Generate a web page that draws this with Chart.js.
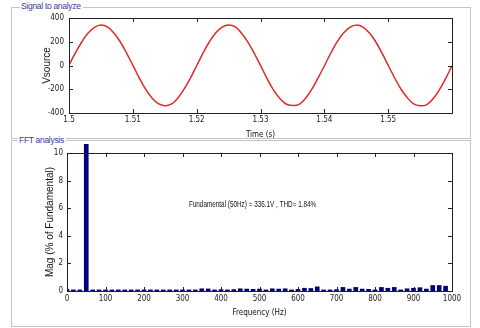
<!DOCTYPE html>
<html>
<head>
<meta charset="utf-8">
<script src="https://cdn.jsdelivr.net/npm/chart.js@4.4.1/dist/chart.umd.min.js"></script>
<style>
  body { margin: 0; background: #fff; width: 480px; height: 328px; overflow: hidden; position: relative; }
  .panel { position: absolute; border: 1px solid #c4c4c4; }
  .plabel { position: absolute; z-index: 3; background: #fff; color: #3a3a96; padding: 0 2px 0 1px;
            font: 8.5px 'Liberation Sans', Arial, sans-serif; letter-spacing: -0.3px; line-height: 12px; white-space: nowrap; }
  canvas { position: absolute; left: 0; z-index: 1; }
</style>
</head>
<body>
<div class="panel" style="left:11px;top:7px;width:458px;height:130px"></div>
<div class="panel" style="left:11px;top:140px;width:458px;height:185px"></div>
<div class="plabel" style="left:20px;top:0px">Signal to analyze</div>
<div class="plabel" style="left:18px;top:134px">FFT analysis</div>

<canvas id="chartSignal" width="480" height="140" style="top:0"></canvas>
<canvas id="chartFFT" width="480" height="188" style="top:140px"></canvas>

<script>
// signal: sampled every 1 ms from t = 1.500 s
const tStart = 1.5;
const tStep = 0.001;
const vsource = [
  2, 106, 198, 274, 322, 341, 325, 276, 202, 107,
  3, -104, -199, -273, -321, -338, -326, -277, -201, -108,
  -2, 105, 200, 275, 324, 342, 327, 274, 199, 104,
  1, -106, -203, -276, -324, -337, -330, -280, -204, -106,
  -4, 103, 199, 273, 322, 340, 326, 277, 204, 108,
  2, -103, -198, -272, -323, -339, -331, -283, -208, -110,
  -3
];
const timeTicks = [1.5, 1.51, 1.52, 1.53, 1.54, 1.55];

// FFT: one bin every 16.7 Hz
const freqHz = [
  0, 16.7, 33.3, 50, 66.7, 83.3, 100, 116.7, 133.3, 150,
  166.7, 183.3, 200, 216.7, 233.3, 250, 266.7, 283.3, 300, 316.7,
  333.3, 350, 366.7, 383.3, 400, 416.7, 433.3, 450, 466.7, 483.3,
  500, 516.7, 533.3, 550, 566.7, 583.3, 600, 616.7, 633.3, 650,
  666.7, 683.3, 700, 716.7, 733.3, 750, 766.7, 783.3, 800, 816.7,
  833.3, 850, 866.7, 883.3, 900, 916.7, 933.3, 950, 966.7, 983.3
];
const magPct = [
  0.12, 0.08, 0.08, 100, 0.08, 0.08, 0.08, 0.08, 0.08, 0.08,
  0.08, 0.08, 0.08, 0.08, 0.08, 0.08, 0.08, 0.08, 0.08, 0.08,
  0.08, 0.16, 0.15, 0.08, 0.1, 0.08, 0.1, 0.16, 0.14, 0.12,
  0.14, 0.08, 0.16, 0.14, 0.16, 0.08, 0.12, 0.2, 0.18, 0.3,
  0.08, 0.08, 0.1, 0.26, 0.14, 0.26, 0.14, 0.12, 0.08, 0.26,
  0.2, 0.26, 0.08, 0.16, 0.2, 0.24, 0.14, 0.4, 0.4, 0.35
];
const thdText = 'Fundamental (50Hz) = 336.1V , THD= 1.84%';
const thdPos = { x: 482, y: 6.3 };

// police étroite si dispo (comme Arial Narrow de matlab)
function hasFont(name) {
  const c = document.createElement('canvas').getContext('2d');
  c.font = '20px monospace';
  const a = c.measureText('1000 Fundamental').width;
  c.font = `20px '${name}', monospace`;
  return c.measureText('1000 Fundamental').width !== a;
}
let narrow = "'Liberation Sans', sans-serif";
let narrowSize = 8;
if (hasFont('Liberation Sans Narrow')) { narrow = "'Liberation Sans Narrow', sans-serif"; narrowSize = 9; }
else if (hasFont('DejaVu Sans Condensed')) { narrow = "'DejaVu Sans Condensed', sans-serif"; narrowSize = 8; }

const tickFont = { family: narrow, size: narrowSize };
const xTitleFont = { family: narrow, size: narrowSize };
const yTitleFont = { family: "'Liberation Sans', Arial, sans-serif", size: 10 };

// cadre + graduations vers l'intérieur (style matlab)
const boxTicks = {
  id: 'boxTicks',
  afterDatasetsDraw(chart) {
    const { ctx, chartArea: a, scales: { x, y } } = chart;
    ctx.save();
    ctx.strokeStyle = '#222';
    ctx.lineWidth = 1;
    ctx.strokeRect(Math.round(a.left) + .5, Math.round(a.top) + .5, Math.round(a.right - a.left), Math.round(a.bottom - a.top));
    ctx.beginPath();
    x.ticks.forEach(t => {
      const px = Math.round(x.getPixelForValue(t.value)) + .5;
      ctx.moveTo(px, a.bottom); ctx.lineTo(px, a.bottom - 4);
      ctx.moveTo(px, a.top); ctx.lineTo(px, a.top + 4);
    });
    y.ticks.forEach(t => {
      const py = Math.round(y.getPixelForValue(t.value)) + .5;
      ctx.moveTo(a.left, py); ctx.lineTo(a.left + 4, py);
      ctx.moveTo(a.right, py); ctx.lineTo(a.right - 4, py);
    });
    ctx.stroke();
    ctx.restore();
  }
};

// texte fondamental / THD, en étroit
const thdLabel = {
  id: 'thdLabel',
  afterDraw(chart) {
    const { ctx, scales: { x, y } } = chart;
    ctx.save();
    ctx.translate(x.getPixelForValue(thdPos.x), y.getPixelForValue(thdPos.y));
    ctx.scale(0.67, 1);
    ctx.font = "9.5px 'Liberation Sans', Arial, sans-serif";
    ctx.fillStyle = '#111';
    ctx.textAlign = 'center';
    ctx.textBaseline = 'middle';
    ctx.fillText(thdText, 0, 0);
    ctx.restore();
  }
};

new Chart(document.getElementById('chartSignal'), {
  type: 'line',
  data: {
    datasets: [{
      data: vsource.map((v, i) => ({ x: tStart + i * tStep, y: v })),
      borderColor: '#dd2a2a',
      borderWidth: 1.5,
      pointRadius: 0,
      tension: 0.4
    }]
  },
  options: {
    responsive: false,
    animation: false,
    events: [],
    layout: { padding: { top: 18, right: 28, left: 0, bottom: 0 } },
    plugins: { legend: { display: false }, tooltip: { enabled: false } },
    scales: {
      x: {
        type: 'linear', min: 1.5, max: 1.56,
        afterBuildTicks: s => { s.ticks = timeTicks.map(v => ({ value: v })); },
        afterFit: s => { s.height = 27; },
        grid: { display: false, drawTicks: false },
        border: { display: false },
        ticks: { padding: 2, color: '#222', font: tickFont, maxRotation: 0, callback: v => String(+v.toFixed(2)) },
        title: { display: true, text: 'Time (s)', color: '#111', font: xTitleFont, padding: { top: 0, bottom: 0 } }
      },
      y: {
        min: -400, max: 400,
        ticks: { stepSize: 200, padding: 5, color: '#222', font: tickFont },
        afterFit: s => { s.width = 69; },
        grid: { display: false, drawTicks: false },
        border: { display: false },
        title: { display: true, text: 'Vsource', color: '#111', font: yTitleFont, padding: { top: 41, bottom: 0 } }
      }
    }
  },
  plugins: [boxTicks]
});

new Chart(document.getElementById('chartFFT'), {
  type: 'bar',
  data: {
    datasets: [{
      data: freqHz.map((f, i) => ({ x: f, y: magPct[i] })),
      backgroundColor: '#00007a',
      barThickness: 4,
      clip: { left: 0, top: 9, right: 0, bottom: 0 }
    }]
  },
  options: {
    responsive: false,
    animation: false,
    events: [],
    layout: { padding: { top: 13, right: 28, left: 0, bottom: 0 } },
    plugins: { legend: { display: false }, tooltip: { enabled: false } },
    scales: {
      x: {
        type: 'linear', min: 0, max: 1000, offset: false,
        ticks: { stepSize: 100, padding: 3, color: '#222', font: tickFont, maxRotation: 0, callback: v => String(v) },
        afterFit: s => { s.height = 37; },
        grid: { display: false, drawTicks: false },
        border: { display: false },
        title: { display: true, text: 'Frequency (Hz)', color: '#111', font: xTitleFont, padding: { top: 0, bottom: 10 } }
      },
      y: {
        min: 0, max: 10,
        ticks: { stepSize: 2, padding: 4, color: '#222', font: tickFont },
        afterFit: s => { s.width = 67; },
        grid: { display: false, drawTicks: false },
        border: { display: false },
        title: { display: true, text: 'Mag (% of Fundamental)', color: '#111', font: yTitleFont, padding: { top: 44, bottom: 0 } }
      }
    }
  },
  plugins: [boxTicks, thdLabel]
});
</script>
</body>
</html>
